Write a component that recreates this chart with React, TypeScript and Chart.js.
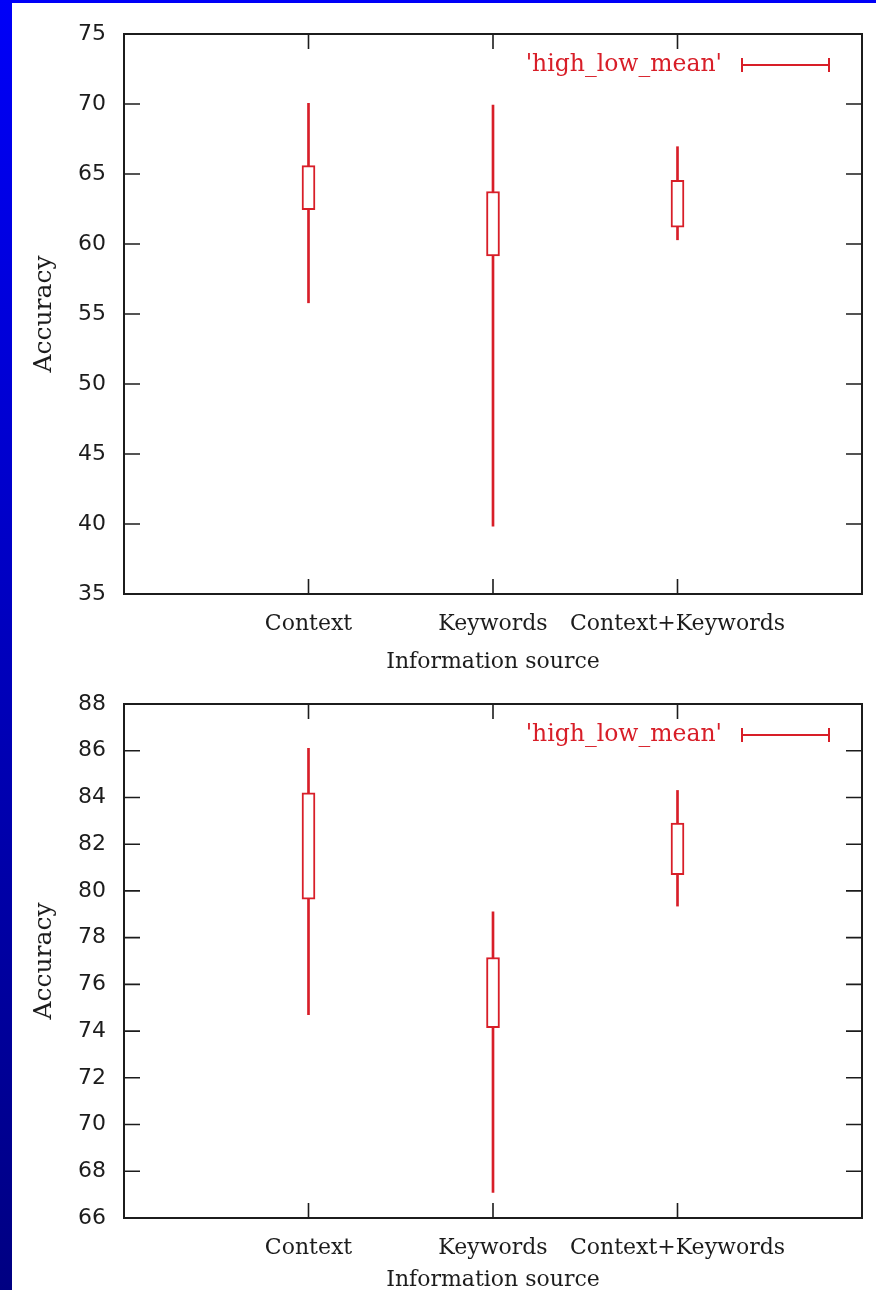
import React, { useEffect, useRef } from 'react';
import { Chart, registerables } from 'chart.js';

Chart.register(...registerables);

// ---------- data ----------
const categories = ['Context', 'Keywords', 'Context+Keywords'];
const axisLabels = ['', ...categories, ''];

const topHigh = [70.05, 69.93, 66.95];
const topBoxHigh = [65.6, 63.75, 64.55];
const topBoxLow = [62.45, 59.15, 61.2];
const topLow = [55.8, 39.85, 60.3];
const topYTicks = [35, 40, 45, 50, 55, 60, 65, 70, 75];

const bottomHigh = [86.1, 79.1, 84.3];
const bottomBoxHigh = [84.2, 77.15, 82.9];
const bottomBoxLow = [79.65, 74.15, 80.7];
const bottomLow = [74.7, 67.1, 79.35];
const bottomYTicks = [66, 68, 70, 72, 74, 76, 78, 80, 82, 84, 86, 88];

const legendLabel = "'high_low_mean'";
const yTitle = 'Accuracy';
const xTitle = 'Information source';

// ---------- styles ----------
const RED = '#d81e28';
const INK = '#1c1c1c';
const SERIF = '"DejaVu Serif", serif';
const SANS = '"DejaVu Sans", sans-serif';
const CANVAS_W = 879;

function floating(lo: number[], hi: number[]) {
  return [null, ...lo.map((v, i) => [v, hi[i]]), null];
}

const framePlugin = {
  id: 'gnuframe',
  afterDatasetsDraw(chart: any) {
    const { ctx, chartArea: a, scales } = chart;
    const ys = scales.y;
    const xs = scales.x;
    ctx.save();
    ctx.strokeStyle = INK;
    ctx.lineWidth = 2;
    ctx.strokeRect(a.left, a.top, a.right - a.left, a.bottom - a.top);
    ctx.lineWidth = 1.6;
    ctx.beginPath();
    ys.ticks.forEach((t: any) => {
      const py = ys.getPixelForValue(t.value);
      ctx.moveTo(a.left, py);
      ctx.lineTo(a.left + 16, py);
      ctx.moveTo(a.right, py);
      ctx.lineTo(a.right - 16, py);
    });
    categories.forEach((_, i) => {
      const px = xs.getPixelForValue(i + 1);
      ctx.moveTo(px, a.bottom);
      ctx.lineTo(px, a.bottom - 15);
      ctx.moveTo(px, a.top);
      ctx.lineTo(px, a.top + 15);
    });
    ctx.stroke();

    // key
    const ky = a.top + 31;
    ctx.fillStyle = RED;
    ctx.font = '23.5px ' + SERIF;
    ctx.textAlign = 'right';
    ctx.textBaseline = 'middle';
    ctx.fillText(legendLabel, a.right - 140, ky);
    ctx.strokeStyle = RED;
    ctx.lineWidth = 2;
    ctx.beginPath();
    const x0 = a.right - 120;
    const x1 = a.right - 33;
    ctx.moveTo(x0, ky);
    ctx.lineTo(x1, ky);
    ctx.moveTo(x0, ky - 7);
    ctx.lineTo(x0, ky + 7);
    ctx.moveTo(x1, ky - 7);
    ctx.lineTo(x1, ky + 7);
    ctx.stroke();
    ctx.restore();
  },
};

type PanelProps = {
  top: number;
  height: number;
  padTop: number;
  xAxisHeight: number;
  titleBottomPad: number;
  high: number[];
  boxHigh: number[];
  boxLow: number[];
  low: number[];
  yTicks: number[];
};

function Panel(p: PanelProps) {
  const ref = useRef<HTMLCanvasElement | null>(null);
  useEffect(() => {
    if (!ref.current) return;
    const chart = new Chart(ref.current, {
      type: 'bar',
      data: {
        labels: axisLabels,
        datasets: [
          {
            label: 'box',
            data: floating(p.boxLow, p.boxHigh) as any,
            backgroundColor: '#ffffff',
            borderColor: RED,
            borderWidth: 2,
            borderSkipped: false,
            barThickness: 13,
            grouped: false,
            order: 1,
          } as any,
          {
            label: 'whisker',
            data: floating(p.low, p.high) as any,
            backgroundColor: RED,
            borderWidth: 0,
            barThickness: 2,
            grouped: false,
            order: 2,
          } as any,
        ],
      },
      options: {
        responsive: false,
        animation: false,
        devicePixelRatio: 1,
        layout: { padding: { left: 0, right: 10, top: p.padTop, bottom: 0 } },
        plugins: { legend: { display: false }, tooltip: { enabled: false }, title: { display: false } },
        scales: {
          x: {
            type: 'category',
            offset: false,
            grid: { display: false, drawTicks: false },
            border: { display: false },
            ticks: {
              color: INK,
              font: { family: SERIF, size: 22 },
              padding: 17,
              autoSkip: false,
              maxRotation: 0,
              minRotation: 0,
            },
            title: {
              display: true,
              text: xTitle,
              color: INK,
              font: { family: SERIF, size: 22 },
              padding: { top: 0, bottom: p.titleBottomPad },
            },
            afterFit: (s: any) => {
              s.height = p.xAxisHeight;
            },
          },
          y: {
            type: 'linear',
            min: p.yTicks[0],
            max: p.yTicks[p.yTicks.length - 1],
            grid: { display: false, drawTicks: false },
            border: { display: false },
            afterBuildTicks: (s: any) => {
              s.ticks = p.yTicks.map((v) => ({ value: v }));
            },
            ticks: {
              color: INK,
              font: { family: SANS, size: 22 },
              padding: 18,
            },
            title: {
              display: true,
              text: yTitle,
              color: INK,
              font: { family: SERIF, size: 25 },
              padding: { top: 29, bottom: 0 },
            },
            afterFit: (s: any) => {
              s.width = 124;
            },
          },
        },
      },
      plugins: [framePlugin],
    } as any);
    return () => chart.destroy();
  }, []);
  return (
    <canvas
      ref={ref}
      width={CANVAS_W}
      height={p.height}
      style={{ position: 'absolute', left: 0, top: p.top, width: CANVAS_W, height: p.height }}
    />
  );
}

export default function App() {
  return (
    <div
      style={{
        position: 'absolute',
        left: 0,
        top: 0,
        width: 876,
        height: 1290,
        overflow: 'hidden',
        background: 'linear-gradient(to bottom, #0000f8, #000082)',
      }}
    >
      <div style={{ position: 'absolute', left: 12, top: 3, right: 0, bottom: 0, background: '#ffffff' }} />
      <Panel
        top={0}
        height={680}
        padTop={34}
        xAxisHeight={86}
        titleBottomPad={5}
        high={topHigh}
        boxHigh={topBoxHigh}
        boxLow={topBoxLow}
        low={topLow}
        yTicks={topYTicks}
      />
      <Panel
        top={660}
        height={650}
        padTop={44}
        xAxisHeight={92}
        titleBottomPad={17}
        high={bottomHigh}
        boxHigh={bottomBoxHigh}
        boxLow={bottomBoxLow}
        low={bottomLow}
        yTicks={bottomYTicks}
      />
    </div>
  );
}
